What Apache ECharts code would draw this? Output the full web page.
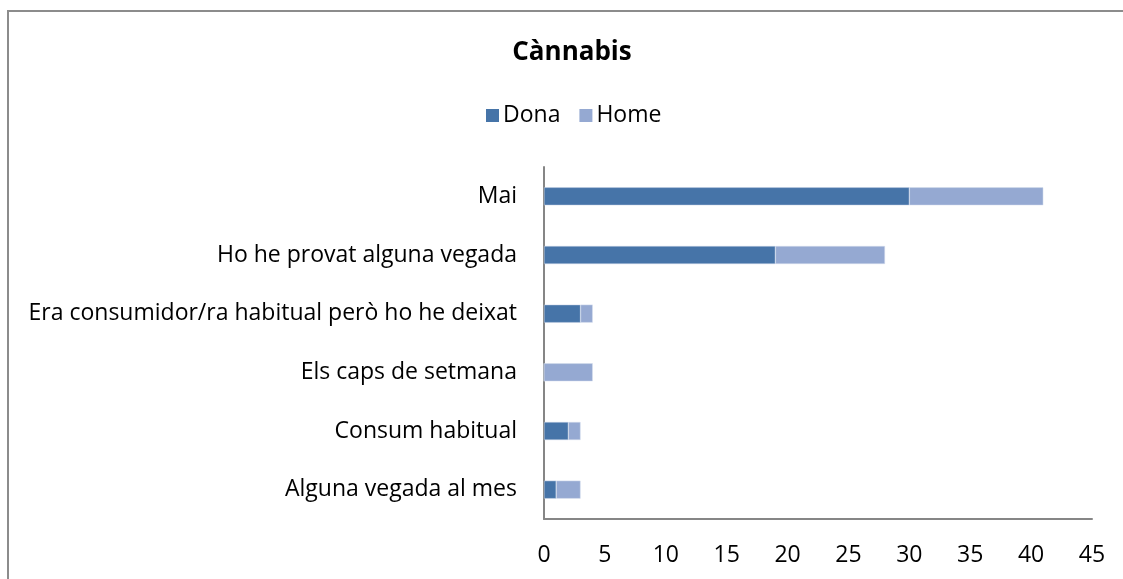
<!DOCTYPE html>
<html>
<head>
<meta charset="utf-8">
<script src="https://cdn.jsdelivr.net/npm/echarts@6/dist/echarts.min.js"></script>
<style>
  html, body { margin: 0; padding: 0; background: #ffffff; }
  #chart { width: 1123px; height: 579px; }
</style>
</head>
<body>
<div id="chart"></div>
<script>
const FONT = "Open Sans";

// bottom to top, as the category axis draws them
const categories = [
  "Alguna vegada al mes",
  "Consum habitual",
  "Els caps de setmana",
  "Era consumidor/ra habitual però ho he deixat",
  "Ho he provat alguna vegada",
  "Mai",
];
const donaValues = [1, 2, 0, 3, 19, 30];
const homeValues = [2, 1, 4, 1, 9, 11];
const xTicks = [0, 5, 10, 15, 20, 25, 30, 35, 40, 45];

const chart = echarts.init(document.getElementById("chart"), null, { renderer: "canvas" });

chart.setOption({
  animation: false,
  backgroundColor: "#ffffff",
  title: {
    text: "Cànnabis",
    left: 567,
    top: 35,
    textAlign: "center",
    textStyle: { fontFamily: FONT, fontSize: 26, fontWeight: "bold", color: "#000000" },
  },
  legend: {
    top: 99,
    left: 481,
    itemWidth: 13,
    itemHeight: 13,
    itemGap: 19,
    icon: "rect",
    itemStyle: { borderWidth: 0 },
    textStyle: { fontFamily: FONT, fontSize: 23, color: "#000000", padding: [0, 0, 0, -1] },
    data: ["Dona", "Home"],
  },
  graphic: [
    {
      type: "rect",
      shape: { x: 8, y: 11, width: 1200, height: 700 },
      style: { fill: "none", stroke: "#8c8c8c", lineWidth: 2 },
      silent: true,
    },
  ],
  grid: { left: 544, right: 31, top: 167, bottom: 60, containLabel: false },
  xAxis: {
    type: "value",
    min: 0,
    max: 45,
    interval: 5,
    axisLine: { show: true, lineStyle: { color: "#868686", width: 2 } },
    axisTick: { show: false },
    splitLine: { show: false },
    axisLabel: {
      margin: 25,
      fontFamily: FONT,
      fontSize: 23,
      color: "#000000",
      formatter: (v) => (xTicks.includes(v) ? String(v) : ""),
    },
  },
  yAxis: {
    type: "category",
    data: categories,
    axisLine: { show: true, lineStyle: { color: "#868686", width: 2 } },
    axisTick: { show: false },
    splitLine: { show: false },
    axisLabel: { margin: 27, fontFamily: FONT, fontSize: 23, color: "#000000" },
  },
  series: [
    {
      name: "Dona",
      type: "bar",
      stack: "total",
      data: donaValues,
      barWidth: 18,
      itemStyle: { color: "#4674A8", borderColor: "#c8d4e6", borderWidth: 0.5 },
    },
    {
      name: "Home",
      type: "bar",
      stack: "total",
      data: homeValues,
      barWidth: 18,
      itemStyle: { color: "#95A9D2", borderColor: "#d6deee", borderWidth: 0.5 },
    },
  ],
});
</script>
</body>
</html>
